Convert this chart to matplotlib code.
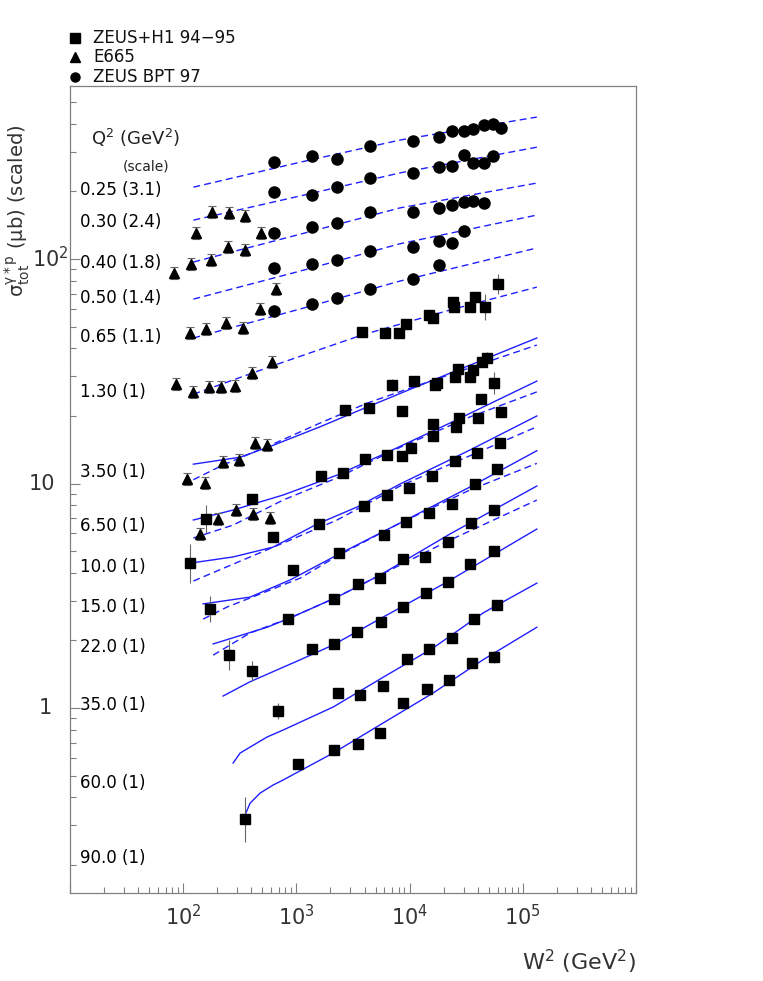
import numpy as np
import matplotlib
matplotlib.use("Agg")
import matplotlib.pyplot as plt
import matplotlib.transforms as mtransforms
from matplotlib.lines import Line2D
from matplotlib.ticker import LogLocator, NullFormatter

plt.rcParams['font.family'] = ['DejaVu Sans']
plt.rcParams['mathtext.default'] = 'regular'

# ---- ZEUS BPT 97 (circles) ----
bpt_w2_q0_25 = [635, 1376, 2287, 4470, 10720, 18170, 23670, 30220, 36290, 45390, 54470, 64080]
bpt_sig_q0_25 = [270, 288, 279, 319, 336, 350, 372, 372, 380, 395, 400, 383]
bpt_w2_q0_30 = [635, 1376, 2287, 4470, 10720, 18170, 23670, 30220, 36290, 45390, 54470]
bpt_sig_q0_30 = [199, 193, 209, 230, 242, 257, 260, 291, 268, 268, 288]
bpt_w2_q0_40 = [635, 1376, 2287, 4470, 10720, 18170, 23670, 30220, 36290, 45390]
bpt_sig_q0_40 = [131, 139, 145, 162, 162, 169, 174, 179, 181, 178]
bpt_w2_q0_50 = [635, 1376, 2287, 4470, 10720, 18170, 23670, 30220]
bpt_sig_q0_50 = [91.2, 95.0, 99.0, 108.5, 113, 120, 118, 133]
bpt_w2_q0_65 = [635, 1376, 2287, 4470, 10720, 18170]
bpt_sig_q0_65 = [58.7, 63.0, 67.0, 73.5, 81.4, 94.0]

# ---- E665 (triangles) ----
e665_w2_q0_30 = [130, 180, 255, 352]
e665_sig_q0_30 = [131, 162, 160, 155]
e665_w2_q0_40 = [83.4, 118, 177, 250, 352, 488]
e665_sig_q0_40 = [86.6, 95.0, 99.0, 113, 110, 131]
e665_w2_q0_50 = [662]
e665_sig_q0_50 = [73.5]
e665_w2_q0_65 = [115, 160, 240, 339, 478]
e665_sig_q0_65 = [46.8, 48.8, 51.9, 49.3, 59.9]
e665_w2_q1_3 = [86.7, 123, 170, 216, 288, 406, 611]
e665_sig_q1_3 = [27.7, 25.6, 26.9, 26.9, 27.2, 31.1, 34.8]
e665_w2_q3_5 = [108, 156, 225, 312, 432, 551]
e665_sig_q3_5 = [10.5, 10.05, 12.5, 12.7, 15.2, 14.8]
e665_w2_q6_5 = [141, 204, 294, 415, 586]
e665_sig_q6_5 = [5.96, 6.95, 7.62, 7.31, 7.02]

# ---- ZEUS+H1 94-95 (squares), relative errors ----
h1_w2_q1_3 = [3804, 6063, 8072, 9297, 14840, 16100, 24160, 24660, 34120, 37800, 46330, 60300]
h1_sig_q1_3 = [47.3, 46.8, 46.8, 51.3, 56.3, 54.6, 64.3, 61.1, 61.1, 67.7, 61.1, 77.4]
h1_err_q1_3 = [0.05, 0.04, 0.04, 0.04, 0.05, 0.04, 0.05, 0.04, 0.04, 0.05, 0.14, 0.11]
h1_w2_q3_5 = [2692, 4383, 6996, 8574, 10940, 16760, 17450, 25170, 26750, 34120, 36290, 43570, 48240, 55600]
h1_sig_q3_5 = [21.3, 21.7, 27.5, 21.0, 28.6, 27.5, 28.0, 29.8, 32.4, 29.8, 32.0, 34.8, 36.2, 28.0]
h1_err_q3_5 = [0.05, 0.04, 0.06, 0.04, 0.05, 0.04, 0.04, 0.04, 0.05, 0.04, 0.04, 0.04, 0.06, 0.12]
h1_w2_q6_5 = [160, 406, 1652, 2583, 4039, 6318, 8574, 10290, 16100, 16100, 25690, 27300, 40160, 42690, 64080]
h1_sig_q6_5 = [6.95, 8.53, 10.8, 11.1, 12.9, 13.4, 13.3, 14.4, 18.4, 16.3, 17.9, 19.6, 19.6, 23.8, 20.8]
h1_err_q6_5 = [0.16, 0.05, 0.04, 0.04, 0.04, 0.04, 0.04, 0.04, 0.05, 0.05, 0.04, 0.04, 0.04, 0.05, 0.05]
h1_w2_q10 = [115, 623, 1586, 3963, 6318, 9880, 15780, 25170, 39350, 62780]
h1_sig_q10 = [4.42, 5.78, 6.60, 7.94, 8.89, 9.55, 10.8, 12.6, 13.7, 15.2]
h1_err_q10 = [0.22, 0.04, 0.04, 0.04, 0.04, 0.04, 0.04, 0.04, 0.04, 0.04]
h1_w2_q15 = [173, 935, 2382, 5939, 9297, 14840, 23670, 37800, 59080]
h1_sig_q15 = [2.76, 4.12, 4.90, 5.90, 6.74, 7.39, 8.11, 9.95, 11.6]
h1_err_q15 = [0.14, 0.04, 0.04, 0.04, 0.04, 0.04, 0.04, 0.04, 0.04]
h1_w2_q22 = [255, 845, 2153, 3508, 5479, 8750, 13680, 21810, 34830, 55600]
h1_sig_q22 = [1.72, 2.49, 3.06, 3.57, 3.79, 4.61, 4.71, 5.49, 6.67, 7.62]
h1_err_q22 = [0.17, 0.04, 0.04, 0.04, 0.04, 0.04, 0.04, 0.04, 0.04, 0.04]
h1_w2_q35 = [406, 1376, 2153, 3436, 5595, 8750, 13960, 21810, 34120, 55600]
h1_sig_q35 = [1.46, 1.83, 1.93, 2.18, 2.41, 2.82, 3.25, 3.64, 4.38, 5.00]
h1_err_q35 = [0.11, 0.05, 0.05, 0.05, 0.04, 0.04, 0.04, 0.04, 0.04, 0.05]
h1_w2_q60 = [689, 2335, 3651, 5822, 9484, 14840, 23670, 37040, 59080]
h1_sig_q60 = [0.970, 1.166, 1.143, 1.25, 1.65, 1.83, 2.05, 2.49, 2.88]
h1_err_q60 = [0.09, 0.04, 0.05, 0.04, 0.04, 0.04, 0.04, 0.04, 0.04]
h1_w2_q90 = [352, 1036, 2153, 3508, 5479, 8750, 14250, 22270, 35550, 55600]
h1_sig_q90 = [0.320, 0.563, 0.650, 0.691, 0.774, 1.053, 1.215, 1.33, 1.59, 1.69]
h1_err_q90 = [0.26, 0.05, 0.05, 0.05, 0.05, 0.05, 0.05, 0.05, 0.05, 0.06]

# ---- model curves: dashed ----
dash_w2_q0_25 = [123, 1079, 8233, 133000]
dash_sig_q0_25 = [209, 270, 339, 429]
dash_w2_q0_30 = [123, 1079, 8233, 133000]
dash_sig_q0_30 = [149, 191, 242, 315]
dash_w2_q0_40 = [123, 1079, 8233, 133000]
dash_sig_q0_40 = [97.0, 129, 169, 218]
dash_w2_q0_50 = [123, 1079, 8233, 133000]
dash_sig_q0_50 = [66.3, 88.4, 117, 157]
dash_w2_q0_65 = [123, 1079, 8233, 133000]
dash_sig_q0_65 = [44.5, 59.9, 79.8, 112]
dash_w2_q1_3 = [123, 611, 3804, 22740, 133000]
dash_sig_q1_3 = [25.0, 33.4, 45.9, 59.3, 75.0]
dash_w2_q3_5 = [123, 225, 586, 1618, 4207, 10720, 29580, 133000]
dash_sig_q3_5 = [10.4, 12.1, 14.8, 18.6, 22.8, 26.9, 32.0, 41.4]
dash_w2_q6_5 = [123, 276, 763, 2287, 8233, 34120, 133000]
dash_sig_q6_5 = [5.72, 6.53, 8.44, 10.6, 14.5, 19.8, 25.6]
dash_w2_q10 = [123, 390, 880, 2287, 8233, 34120, 133000]
dash_sig_q10 = [3.68, 4.71, 5.60, 6.88, 9.75, 13.3, 17.9]
dash_w2_q15 = [150, 245, 478, 1079, 2287, 8233, 34120, 133000]
dash_sig_q15 = [2.49, 2.82, 3.22, 3.79, 4.75, 6.67, 9.36, 12.3]
dash_w2_q22 = [184, 390, 880, 2287, 5479, 22740, 133000]
dash_sig_q22 = [1.72, 2.16, 2.52, 3.12, 3.91, 5.60, 8.44]

# ---- model curves: solid ----
solid_w2_q3_5 = [123, 318, 623, 1618, 4207, 10720, 29580, 133000]
solid_sig_q3_5 = [12.2, 13.1, 14.8, 17.9, 21.9, 26.6, 32.7, 44.5]
solid_w2_q6_5 = [123, 276, 763, 2287, 5479, 22740, 133000]
solid_sig_q6_5 = [6.88, 7.62, 8.89, 10.9, 13.3, 18.6, 28.6]
solid_w2_q10 = [115, 276, 623, 1524, 3436, 8233, 34120, 133000]
solid_sig_q10 = [4.42, 4.71, 5.21, 6.60, 7.86, 9.95, 14.1, 20.0]
solid_w2_q15 = [150, 390, 880, 2287, 8233, 34120, 133000]
solid_sig_q15 = [2.91, 3.12, 3.72, 4.80, 6.67, 9.65, 14.0]
solid_w2_q22 = [184, 551, 880, 2287, 5479, 22740, 133000]
solid_sig_q22 = [1.93, 2.29, 2.52, 3.12, 3.91, 5.96, 9.75]
solid_w2_q35 = [225, 390, 1079, 2110, 5822, 21370, 133000]
solid_sig_q35 = [1.131, 1.31, 1.64, 1.91, 2.54, 3.64, 6.27]
solid_w2_q60 = [276, 318, 390, 551, 763, 2110, 5822, 16100, 44470, 133000]
solid_sig_q60 = [0.569, 0.630, 0.670, 0.743, 0.798, 1.010, 1.37, 1.85, 2.65, 3.60]
solid_w2_q90 = [352, 390, 478, 623, 763, 2110, 5822, 16100, 44470, 133000]
solid_sig_q90 = [0.334, 0.377, 0.418, 0.454, 0.478, 0.630, 0.857, 1.166, 1.64, 2.29]

bin_labels = ["0.25 (3.1)", "0.30 (2.4)", "0.40 (1.8)", "0.50 (1.4)", "0.65 (1.1)",
              "1.30 (1)", "3.50 (1)", "6.50 (1)", "10.0 (1)", "15.0 (1)",
              "22.0 (1)", "35.0 (1)", "60.0 (1)", "90.0 (1)"]
bin_label_py = [190, 222, 263, 298, 337, 392, 472, 526, 567, 607, 647, 705, 783, 858]

legend_labels = ["ZEUS+H1 94\u221295", "E665", "ZEUS BPT 97"]

BLUE = '#1f1fff'
GRAY = '#808080'
W, H = 763, 981


def fx(px):
    return px / W


def fy(py):
    return 1 - py / H


fig = plt.figure(figsize=(W / 100, H / 100), dpi=100)
ax = fig.add_axes([fx(70), fy(893), fx(636) - fx(70), fy(86) - fy(893)])
ax.set_xscale('log')
ax.set_yscale('log')
ax.set_xlim(10, 1e6)
ax.set_ylim(0.15, 590)

# curves
dashed = [(dash_w2_q0_25, dash_sig_q0_25), (dash_w2_q0_30, dash_sig_q0_30),
          (dash_w2_q0_40, dash_sig_q0_40), (dash_w2_q0_50, dash_sig_q0_50),
          (dash_w2_q0_65, dash_sig_q0_65), (dash_w2_q1_3, dash_sig_q1_3),
          (dash_w2_q3_5, dash_sig_q3_5), (dash_w2_q6_5, dash_sig_q6_5),
          (dash_w2_q10, dash_sig_q10), (dash_w2_q15, dash_sig_q15),
          (dash_w2_q22, dash_sig_q22)]
solid = [(solid_w2_q3_5, solid_sig_q3_5), (solid_w2_q6_5, solid_sig_q6_5),
         (solid_w2_q10, solid_sig_q10), (solid_w2_q15, solid_sig_q15),
         (solid_w2_q22, solid_sig_q22), (solid_w2_q35, solid_sig_q35),
         (solid_w2_q60, solid_sig_q60), (solid_w2_q90, solid_sig_q90)]
for w2, s in dashed:
    ax.plot(w2, s, color=BLUE, lw=1.0, ls=(0, (5, 3)), zorder=2)
for w2, s in solid:
    ax.plot(w2, s, color=BLUE, lw=1.0, zorder=2)


def rel_err(sig, e):
    sig = np.asarray(sig, float)
    e = np.asarray(e, float)
    return [sig - sig / (1 + e), sig * e]


# squares
squares = [(h1_w2_q1_3, h1_sig_q1_3, h1_err_q1_3), (h1_w2_q3_5, h1_sig_q3_5, h1_err_q3_5),
           (h1_w2_q6_5, h1_sig_q6_5, h1_err_q6_5), (h1_w2_q10, h1_sig_q10, h1_err_q10),
           (h1_w2_q15, h1_sig_q15, h1_err_q15), (h1_w2_q22, h1_sig_q22, h1_err_q22),
           (h1_w2_q35, h1_sig_q35, h1_err_q35), (h1_w2_q60, h1_sig_q60, h1_err_q60),
           (h1_w2_q90, h1_sig_q90, h1_err_q90)]
for w2, s, e in squares:
    ax.errorbar(w2, s, yerr=rel_err(s, e), fmt='s', color='black', ms=7.5,
                ecolor='#666666', elinewidth=0.8, capsize=0, zorder=4)

# triangles
triangles = [(e665_w2_q0_30, e665_sig_q0_30), (e665_w2_q0_40, e665_sig_q0_40),
             (e665_w2_q0_50, e665_sig_q0_50), (e665_w2_q0_65, e665_sig_q0_65),
             (e665_w2_q1_3, e665_sig_q1_3), (e665_w2_q3_5, e665_sig_q3_5),
             (e665_w2_q6_5, e665_sig_q6_5)]
for w2, s in triangles:
    ax.errorbar(w2, s, yerr=rel_err(s, [0.065] * len(s)), fmt='^', color='black', ms=6.5,
                ecolor='#666666', elinewidth=0.8, capsize=3, capthick=0.8, zorder=4)

# circles
circles = [(bpt_w2_q0_25, bpt_sig_q0_25), (bpt_w2_q0_30, bpt_sig_q0_30),
           (bpt_w2_q0_40, bpt_sig_q0_40), (bpt_w2_q0_50, bpt_sig_q0_50),
           (bpt_w2_q0_65, bpt_sig_q0_65)]
for w2, s in circles:
    ax.errorbar(w2, s, yerr=rel_err(s, [0.03] * len(s)), fmt='o', color='black', ms=8,
                ecolor='#666666', elinewidth=0.8, capsize=0, zorder=4)

# axes styling
for side in ['left', 'bottom', 'top', 'right']:
    ax.spines[side].set_color(GRAY)
    ax.spines[side].set_linewidth(0.9)
ax.tick_params(which='both', direction='in', color=GRAY, top=False, right=False)
ax.tick_params(which='major', length=7, width=0.8)
ax.tick_params(which='minor', length=4, width=0.8)
ax.xaxis.set_major_locator(LogLocator(base=10, numticks=10))
ax.xaxis.set_minor_locator(LogLocator(base=10, subs=np.arange(2, 10), numticks=20))
ax.yaxis.set_major_locator(LogLocator(base=10, numticks=10))
ax.yaxis.set_minor_locator(LogLocator(base=10, subs=np.arange(2, 10), numticks=20))
ax.xaxis.set_minor_formatter(NullFormatter())
ax.yaxis.set_minor_formatter(NullFormatter())
ax.set_yticklabels([])
ax.set_xticks([1e1, 1e2, 1e3, 1e4, 1e5, 1e6])
ax.set_xticklabels(['', r'$10^{2}$', r'$10^{3}$', r'$10^{4}$', r'$10^{5}$', ''],
                   fontsize=15, color='#333333')
ax.tick_params(axis='x', which='major', pad=8)
ax.set_xlim(10, 1e6)

# y tick labels placed by hand, as in the original
trans = mtransforms.blended_transform_factory(fig.transFigure, ax.transData)
for val, lab, px in zip([1, 10, 100], ['1', '10', r'$10^{2}$'], [45, 42, 50]):
    ax.text(fx(px), val, lab, transform=trans, ha='center', va='center',
            fontsize=15, color='#333333')

# axis titles
fig.text(fx(17), fy(211), r'$\sigma^{\gamma*p}_{tot}$ ($\mu$b) (scaled)', rotation=90,
         ha='center', va='center', fontsize=14, color='#333333')
fig.text(fx(636), fy(962), r'W$^{2}$ (GeV$^{2}$)', ha='right', va='center',
         fontsize=16, color='#333333')

# Q2 labels
fig.text(fx(91), fy(138), r'Q$^{2}$ (GeV$^{2}$)', ha='left', va='center', fontsize=13, color='#222222')
fig.text(fx(123), fy(166), '(scale)', ha='left', va='center', fontsize=10, color='#222222')
for lab, py in zip(bin_labels, bin_label_py):
    fig.text(fx(80), fy(py), lab, ha='left', va='center', fontsize=12, color='black')

# legend
for (mk, ms), lab, py in zip([('s', 6.5), ('^', 6.5), ('o', 6.5)], legend_labels, [38, 57, 77]):
    fig.add_artist(Line2D([fx(75)], [fy(py)], marker=mk, ms=ms, color='black', ls='none',
                          transform=fig.transFigure))
    fig.text(fx(93), fy(py), lab, ha='left', va='center', fontsize=12, color='#111111')

fig.savefig('out.png', dpi=100)
